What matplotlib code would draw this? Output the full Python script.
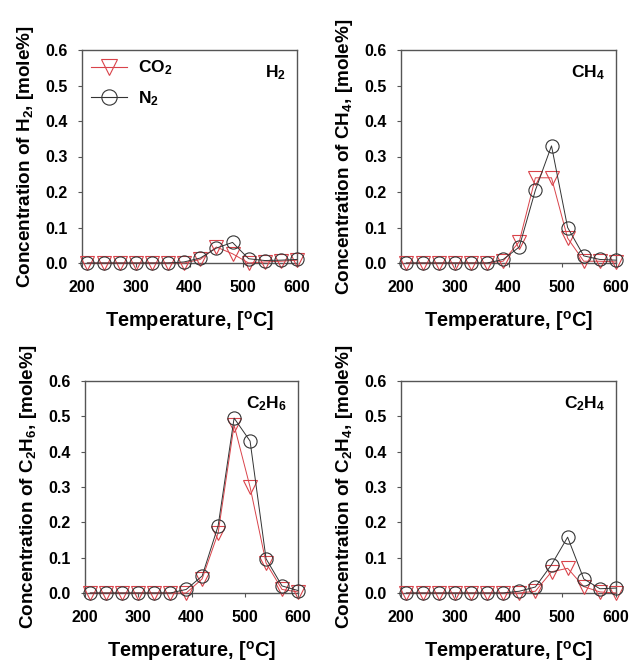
import numpy as np
import matplotlib
matplotlib.use("Agg")
import matplotlib.pyplot as plt
from matplotlib.lines import Line2D

plt.rcParams["font.family"] = ["Liberation Sans", "DejaVu Sans"]
plt.rcParams["font.weight"] = "bold"
plt.rcParams["mathtext.fontset"] = "custom"
plt.rcParams["mathtext.rm"] = "Liberation Sans:bold"
plt.rcParams["mathtext.bf"] = "Liberation Sans:bold"
plt.rcParams["mathtext.it"] = "Liberation Sans:bold"
plt.rcParams["mathtext.default"] = "bf"

temps = [210, 240, 270, 300, 330, 360, 390, 420, 450, 480, 510, 540, 570, 600]

h2_co2 = [0, 0, 0, 0, 0, 0, 0.0, 0.010, 0.045, 0.026, 0.0, 0.003, 0.005, 0.008]
h2_n2 = [0, 0, 0, 0, 0, 0, 0.003, 0.014, 0.042, 0.058, 0.012, 0.007, 0.008, 0.010]

ch4_co2 = [0, 0, 0, 0, 0, 0, 0.005, 0.060, 0.240, 0.240, 0.070, 0.005, 0.005, 0.003]
ch4_n2 = [0, 0, 0, 0, 0, 0, 0.010, 0.045, 0.205, 0.330, 0.100, 0.020, 0.010, 0.008]

c2h6_co2 = [0, 0, 0, 0, 0, 0, 0.0, 0.040, 0.170, 0.475, 0.300, 0.085, 0.010, 0.003]
c2h6_n2 = [0, 0, 0, 0, 0, 0, 0.010, 0.048, 0.190, 0.495, 0.430, 0.097, 0.020, 0.007]

c2h4_co2 = [0, 0, 0, 0, 0, 0, 0, 0.0, 0.005, 0.060, 0.070, 0.018, 0.003, 0.0]
c2h4_n2 = [0, 0, 0, 0, 0, 0, 0, 0.005, 0.017, 0.080, 0.158, 0.040, 0.012, 0.014]

species = ["H_2", "CH_4", "C_2H_6", "C_2H_4"]
series = [(h2_co2, h2_n2), (ch4_co2, ch4_n2), (c2h6_co2, c2h6_n2), (c2h4_co2, c2h4_n2)]

RED = "#d9434a"
DARK = "#333333"
SPINE = "#555555"

fig = plt.figure(figsize=(6.4, 6.7), dpi=100)
W, H = 640, 670
# axes boxes in pixels: left, top, right, bottom
boxes = [(82, 50, 297, 263), (401, 50, 616, 263),
         (85, 381, 298, 593), (401, 381, 616, 593)]

for i, (box, name, (co2, n2)) in enumerate(zip(boxes, species, series)):
    l, t, r, b = box
    ax = fig.add_axes([l / W, 1 - b / H, (r - l) / W, (b - t) / H])
    ax.plot(temps, co2, color=RED, lw=0.7, marker="v", ms=10, mfc="none",
            mec=RED, mew=0.8, zorder=3, clip_on=False)
    ax.plot(temps, n2, color=DARK, lw=0.7, marker="o", ms=9.5, mfc="none",
            mec=DARK, mew=0.8, zorder=4, clip_on=False)
    ax.set_xlim(200, 600)
    ax.set_ylim(0, 0.6)
    ax.set_xticks([200, 300, 400, 500, 600])
    ax.set_yticks([0.0, 0.1, 0.2, 0.3, 0.4, 0.5, 0.6])
    ax.set_yticklabels([f"{v:.1f}" for v in ax.get_yticks()])
    for s in ax.spines.values():
        s.set_color(SPINE)
        s.set_linewidth(1.0)
    ax.tick_params(direction="out", length=3, width=0.8, color=SPINE,
                   labelsize=11.5)
    ax.tick_params(axis="x", pad=9)
    ax.tick_params(axis="y", pad=7)
    for lab in ax.get_xticklabels() + ax.get_yticklabels():
        lab.set_fontweight("bold")
    ax.set_xlabel("Temperature, [$^{o}$C]", fontsize=14.3,
                  fontweight="bold", labelpad=10)
    ax.set_ylabel(f"Concentration of ${name}$, [mole%]", fontsize=13.6,
                  fontweight="bold", labelpad=7)
    ax.text(0.95, 0.895, f"$\\mathbf{{{name}}}$", transform=ax.transAxes,
            ha="right", va="center", fontsize=12.5, fontweight="bold")
    if i == 0:
        handles = [Line2D([], [], color=RED, lw=0.8, marker="v", ms=12,
                          mfc="none", mec=RED, mew=0.8),
                   Line2D([], [], color=DARK, lw=0.8, marker="o", ms=11,
                          mfc="none", mec=DARK, mew=0.8)]
        ax.legend(handles, ["$\\mathbf{CO_2}$", "$\\mathbf{N_2}$"],
                  loc="upper left", frameon=False, handlelength=2.1,
                  handletextpad=0.6, borderaxespad=0.2, borderpad=0.3,
                  labelspacing=0.7, prop={"weight": "bold", "size": 12.5})

fig.savefig("out.png", dpi=100)
